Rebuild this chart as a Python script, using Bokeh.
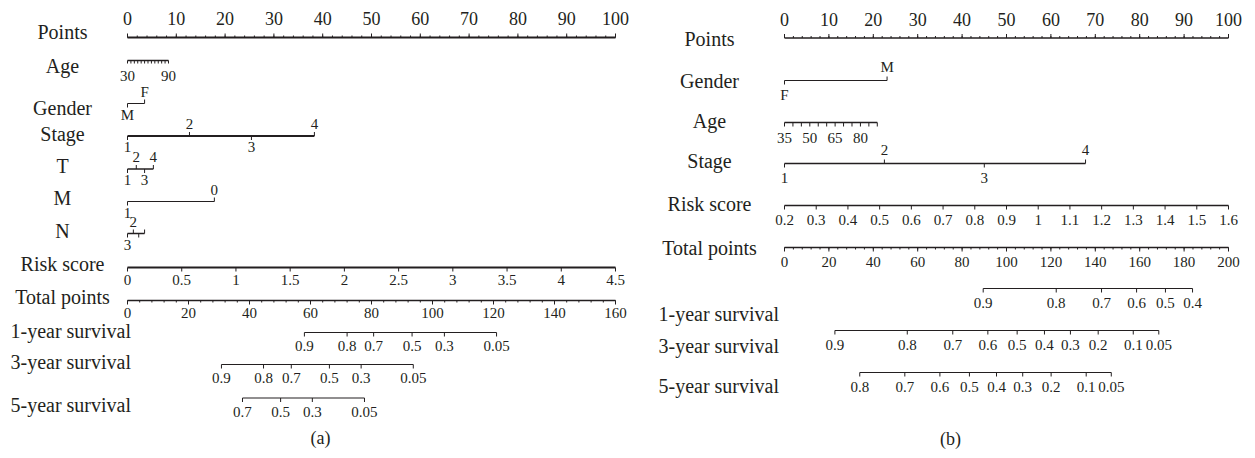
from bokeh.plotting import figure
from bokeh.layouts import row
from bokeh.models import Range1d
from bokeh.embed import file_html
from bokeh.resources import INLINE
from bokeh.core.properties import value

INK = "#231F20"
FONT = "Liberation Serif"

# ---------------- data: panel (a) ----------------
a_points_major = [0, 10, 20, 30, 40, 50, 60, 70, 80, 90, 100]
a_points_minor = [0, 2, 4, 6, 8, 10, 12, 14, 16, 18, 20, 22, 24, 26, 28, 30, 32, 34, 36, 38, 40,
                  42, 44, 46, 48, 50, 52, 54, 56, 58, 60, 62, 64, 66, 68, 70, 72, 74, 76, 78, 80,
                  82, 84, 86, 88, 90, 92, 94, 96, 98, 100]
a_age_ticks = [30, 35, 40, 45, 50, 55, 60, 65, 70, 75, 80, 85, 90]
a_age_labels = [30, 90]
a_age_range = [30, 90]
a_age_points = [0, 8.4]
a_gender = ["M", "F"]
a_gender_pts = [0, 3.5]
a_stage = ["1", "2", "3", "4"]
a_stage_pts = [0, 12.7, 25.4, 38.3]
a_T = ["1", "2", "3", "4"]
a_T_pts = [0, 1.8, 3.5, 5.3]
a_M = ["1", "0"]
a_M_pts = [0, 17.8]
a_N = ["3", "2", "", ""]
a_N_pts = [0, 1.2, 2.3, 3.5]
a_risk_ticks = [0, 0.5, 1, 1.5, 2, 2.5, 3, 3.5, 4, 4.5]
a_risk_range = [0, 4.5]
a_total_major = [0, 20, 40, 60, 80, 100, 120, 140, 160]
a_total_minor = list(range(0, 161, 4))
a_total_max = 160
a_surv1 = [0.9, 0.8, 0.7, 0.5, 0.3, 0.05]
a_surv1_total = [58.0, 72.0, 80.7, 93.3, 103.9, 121.0]
a_surv3 = [0.9, 0.8, 0.7, 0.5, 0.3, 0.05]
a_surv3_total = [30.8, 44.6, 53.7, 66.2, 76.6, 93.7]
a_surv5 = [0.7, 0.5, 0.3, 0.05]
a_surv5_total = [37.7, 50.2, 60.6, 77.7]

# ---------------- data: panel (b) ----------------
b_points_major = [0, 10, 20, 30, 40, 50, 60, 70, 80, 90, 100]
b_points_minor = a_points_minor
b_gender = ["F", "M"]
b_gender_pts = [0, 23.1]
b_age_ticks = [35, 40, 45, 50, 55, 60, 65, 70, 75, 80, 85, 90]
b_age_labels = [35, 50, 65, 80]
b_age_range = [35, 90]
b_age_points = [0, 20.9]
b_stage = ["1", "2", "3", "4"]
b_stage_pts = [0, 22.5, 45.0, 67.8]
b_risk_ticks = [0.2, 0.3, 0.4, 0.5, 0.6, 0.7, 0.8, 0.9, 1, 1.1, 1.2, 1.3, 1.4, 1.5, 1.6]
b_risk_range = [0.2, 1.6]
b_total_major = [0, 20, 40, 60, 80, 100, 120, 140, 160, 180, 200]
b_total_minor = list(range(0, 201, 4))
b_total_max = 200
b_surv1 = [0.9, 0.8, 0.7, 0.6, 0.5, 0.4]
b_surv1_total = [89.5, 122.4, 142.8, 158.6, 171.6, 183.8]
b_surv3 = [0.9, 0.8, 0.7, 0.6, 0.5, 0.4, 0.3, 0.2, 0.1, 0.05]
b_surv3_total = [22.7, 55.3, 75.8, 91.6, 104.8, 117.1, 128.8, 141.3, 157.1, 168.6]
b_surv5 = [0.8, 0.7, 0.6, 0.5, 0.4, 0.3, 0.2, 0.1, 0.05]
b_surv5_total = [33.9, 54.2, 70.0, 83.3, 95.5, 107.3, 120.1, 135.9, 147.2]


def fmt(v):
    return f"{v:g}"


def lin(vals, src, dst):
    (s0, s1), (d0, d1) = src, dst
    return [d0 + (v - s0) * (d1 - d0) / (s1 - s0) for v in vals]


def make_fig(width, px0, px100):
    k = (px100 - px0) / 100.0
    start = -px0 / k
    p = figure(width=width, height=458, output_backend="svg", toolbar_location=None,
               x_range=Range1d(start, start + width / k), y_range=Range1d(458, 0),
               x_axis_type=None, y_axis_type=None, min_border=0)
    p.grid.visible = False
    p.outline_line_color = None
    p.background_fill_color = "white"
    p.border_fill_color = "white"
    return p, (lambda px: start + px / k)


def txt(p, xs, ys, labels, size, align="center"):
    p.text(x=xs, y=ys, text=labels, text_font=value(FONT), text_font_size=size,
           text_color=INK, text_align=align, text_baseline="middle")


def scale_row(p, y, pts, side, lw, tick=4, minor=None, minor_tick=2):
    p.segment(x0=[min(pts)], y0=[y], x1=[max(pts)], y1=[y], line_width=lw, line_color=INK)
    d = -1 if side == "above" else 1
    p.segment(x0=pts, y0=[y] * len(pts), x1=pts, y1=[y + d * tick] * len(pts),
              line_width=1, line_color=INK)
    if minor:
        p.segment(x0=minor, y0=[y] * len(minor), x1=minor, y1=[y + d * minor_tick] * len(minor),
                  line_width=1, line_color=INK)


def tick_labels(p, y, pts, labels, side, off, size):
    d = -1 if side == "above" else 1
    txt(p, pts, [y + d * off] * len(pts), labels, size)


def cat_row(p, y, pts, labels, lw, tick=4, off_below=11, off_above=12, size="15px"):
    p.segment(x0=[min(pts)], y0=[y], x1=[max(pts)], y1=[y], line_width=lw, line_color=INK)
    ys1, ly = [], []
    for i in range(len(pts)):
        if i % 2 == 0:
            ys1.append(y + tick)
            ly.append(y + off_below)
        else:
            ys1.append(y - tick)
            ly.append(y - off_above)
    p.segment(x0=pts, y0=[y] * len(pts), x1=pts, y1=ys1, line_width=1, line_color=INK)
    txt(p, pts, ly, labels, size)


# ================= panel (a) =================
pa, pxa = make_fig(640, 127, 615)
txt(pa, [pxa(62)] * 9, [31, 65, 107, 133, 165, 197, 230, 263, 296],
    ["Points", "Age", "Gender", "Stage", "T", "M", "N", "Risk score", "Total points"], "20px")
txt(pa, [pxa(10)] * 3, [330, 361, 404], ["1-year survival", "3-year survival", "5-year survival"],
    "20px", align="left")

y = 37
scale_row(pa, y, a_points_major, "above", 2, tick=4, minor=a_points_minor, minor_tick=2)
tick_labels(pa, y, a_points_major, [fmt(v) for v in a_points_major], "above", 19, "18px")

y = 60
ap = lin(a_age_ticks, a_age_range, a_age_points)
scale_row(pa, y, ap, "below", 1.6, tick=3)
tick_labels(pa, y, lin(a_age_labels, a_age_range, a_age_points), [fmt(v) for v in a_age_labels],
            "below", 15, "15px")

cat_row(pa, 103, a_gender_pts, a_gender, 1.2)
cat_row(pa, 135.5, a_stage_pts, a_stage, 2.2)
cat_row(pa, 168.5, a_T_pts, a_T, 1.6)
cat_row(pa, 201, a_M_pts, a_M, 1.2)
cat_row(pa, 233, a_N_pts, a_N, 1.6)

y = 267
rp = lin(a_risk_ticks, a_risk_range, [0, 100])
scale_row(pa, y, rp, "below", 2, tick=4)
tick_labels(pa, y, rp, [fmt(v) for v in a_risk_ticks], "below", 12, "15px")

y = 300
tp = [v * 100.0 / a_total_max for v in a_total_major]
tm = [v * 100.0 / a_total_max for v in a_total_minor]
scale_row(pa, y, tp, "below", 1.6, tick=4, minor=tm, minor_tick=2)
tick_labels(pa, y, tp, [fmt(v) for v in a_total_major], "below", 12, "15px")

for yy, s, tot in [(332, a_surv1, a_surv1_total), (364, a_surv3, a_surv3_total),
                   (397.5, a_surv5, a_surv5_total)]:
    sp = [v * 100.0 / a_total_max for v in tot]
    scale_row(pa, yy, sp, "below", 1.2, tick=4)
    tick_labels(pa, yy, sp, [fmt(v) for v in s], "below", 13.5, "15px")

txt(pa, [pxa(320)], [437], ["(a)"], "18px")

# ================= panel (b) =================
pb, pxb = make_fig(615, 144, 588)
txt(pb, [pxb(69)] * 6, [38, 80, 120, 160, 203, 247],
    ["Points", "Gender", "Age", "Stage", "Risk score", "Total points"], "20px")
txt(pb, [pxb(18)] * 3, [313, 345, 385], ["1-year survival", "3-year survival", "5-year survival"],
    "20px", align="left")

y = 37.5
scale_row(pb, y, b_points_major, "above", 1.6, tick=4, minor=b_points_minor, minor_tick=2)
tick_labels(pb, y, b_points_major, [fmt(v) for v in b_points_major], "above", 19, "18px")

cat_row(pb, 80, b_gender_pts, b_gender, 1.2, off_below=14, off_above=14)

y = 122
bp = lin(b_age_ticks, b_age_range, b_age_points)
scale_row(pb, y, bp, "below", 1.6, tick=4)
tick_labels(pb, y, lin(b_age_labels, b_age_range, b_age_points), [fmt(v) for v in b_age_labels],
            "below", 15, "15px")

cat_row(pb, 163, b_stage_pts, b_stage, 1.6, off_below=14, off_above=14)

y = 205
rp = lin(b_risk_ticks, b_risk_range, [0, 100])
scale_row(pb, y, rp, "below", 1.6, tick=4)
tick_labels(pb, y, rp, [fmt(v) for v in b_risk_ticks], "below", 14, "15px")

y = 247
tp = [v * 100.0 / b_total_max for v in b_total_major]
tm = [v * 100.0 / b_total_max for v in b_total_minor]
scale_row(pb, y, tp, "below", 1.6, tick=4, minor=tm, minor_tick=2)
tick_labels(pb, y, tp, [fmt(v) for v in b_total_major], "below", 14, "15px")

for yy, s, tot in [(288, b_surv1, b_surv1_total), (330, b_surv3, b_surv3_total),
                   (372, b_surv5, b_surv5_total)]:
    sp = [v * 100.0 / b_total_max for v in tot]
    scale_row(pb, yy, sp, "below", 1.2, tick=4)
    tick_labels(pb, yy, sp, [fmt(v) for v in s], "below", 14.5, "15px")

txt(pb, [pxb(310)], [438], ["(b)"], "18px")

layout = row(pa, pb, spacing=0)
open("out.html", "w").write(file_html(layout, INLINE))
